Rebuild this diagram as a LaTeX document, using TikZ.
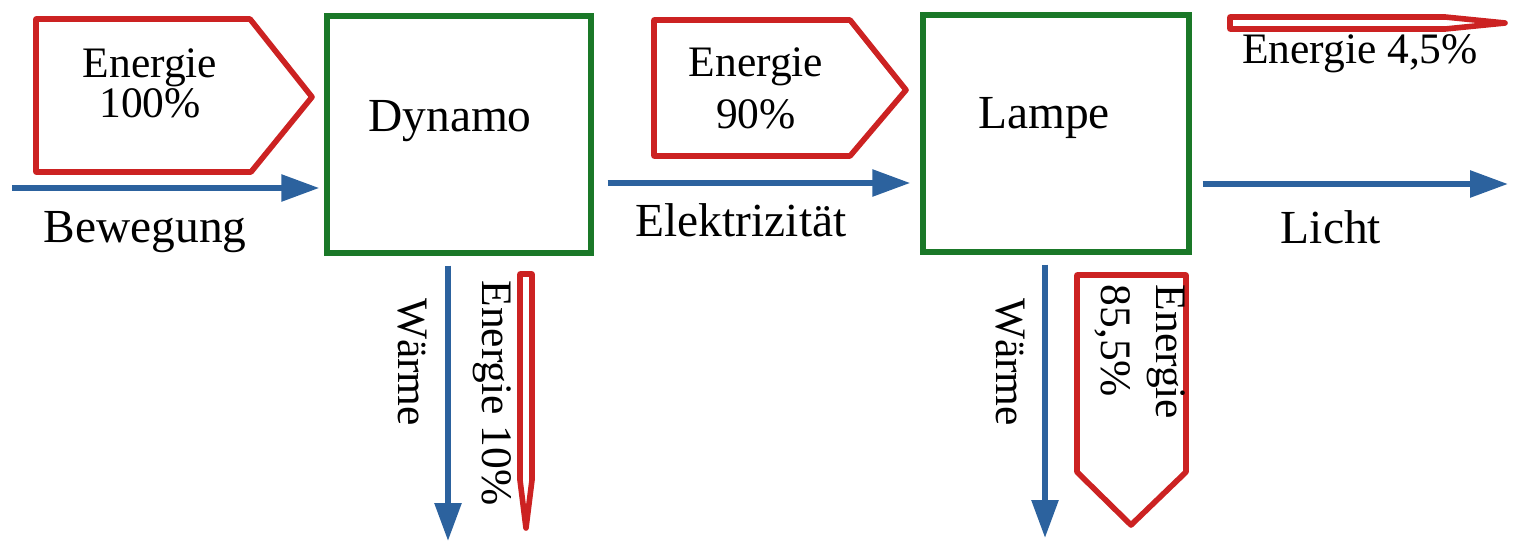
\documentclass[tikz,border=0pt]{standalone}
\usepackage{fontspec}
\setmainfont{Liberation Serif}
\usetikzlibrary{arrows.meta}
\definecolor{flowred}{RGB}{204,34,34}
\definecolor{boxgreen}{RGB}{26,120,40}
\definecolor{flowblue}{RGB}{44,98,158}
\tikzstyle{converter}=[draw=boxgreen, line width=3.1pt, minimum width=5.28cm, minimum height=4.74cm]
\tikzstyle{energy arrow}=[draw=flowred, line width=3.2pt, line join=round]
\tikzstyle{flow}=[draw=flowblue, line width=3.3pt, -{Triangle[length=0.76cm, width=0.52cm]}]
\tikzstyle{form}=[font=\fontsize{27}{32}\selectfont, inner sep=0]
\tikzstyle{amount}=[font=\fontsize{24.75}{29}\selectfont, inner sep=0, align=center]

\begin{document}
\begin{tikzpicture}[x=0.02cm, y=-0.02cm]
  \useasboundingbox (0,0) rectangle (1517,554);

  \node[converter, label={[form, xshift=-0.18cm, yshift=0.27cm]center:Dynamo}] (dynamo) at (459,134.5) {};
  \node[converter, minimum width=5.32cm, label={[form, xshift=-0.24cm, yshift=0.3cm]center:Lampe}] (lampe) at (1056,133.5) {};

  \coordinate (bew start) at (12,188);
  \coordinate (elek) at (600,183);
  \coordinate (licht end) at (1508,184);
  \coordinate (heat dyn end) at (448,541);
  \coordinate (heat lamp end) at (1045,538);

  % energy flows
  \draw[energy arrow] (36,19) -- (250,19) -- (312,97) -- (251,172) -- (36,172) -- cycle;
  \draw[energy arrow] (654,20) -- (850,20) -- (906,90) -- (850,156) -- (654,156) -- cycle;
  \draw[energy arrow] (1230,17) -- (1445,17) -- (1505,23) -- (1445,29) -- (1230,29) -- cycle;
  \draw[energy arrow] (520,274) -- (532,274) -- (532,480) -- (526,528) -- (520,480) -- cycle;
  \draw[energy arrow] (1077,275) -- (1186,275) -- (1186,472) -- (1131,525) -- (1077,472) -- cycle;

  \node[amount, font=\fontsize{24.75}{22.7}\selectfont] (e in) at (150,83) {Energie\\100\%};
  \node[amount, font=\fontsize{24.75}{29.5}\selectfont] (e el) at (756,88) {Energie\\90\%};
  \node[amount] (e light) at (1360,54) {Energie 4,5\%};
  \node[amount, rotate=-90] (e heat dyn) at (492,393) {Energie 10\%};
  \node[amount, rotate=-90, align=left, font=\fontsize{24.75}{31}\selectfont] (e heat lamp) at (1140,352) {Energie\\85,5\%};

  % forms
  \draw[flow, shorten >=0.1cm] (bew start) -- (bew start -| dynamo.west);
  \draw[flow, shorten <=0.28cm, shorten >=0.2cm] (elek -| dynamo.east) -- (elek -| lampe.west);
  \draw[flow, shorten <=0.22cm] (licht end -| lampe.east) -- (licht end);
  \draw[flow, shorten <=0.2cm] (heat dyn end |- dynamo.south) -- (heat dyn end);
  \draw[flow, shorten <=0.2cm] (heat lamp end |- lampe.south) -- (heat lamp end);

  \node[form] (bewegung) at (145,232) {Bewegung};
  \node[form] (elektrizitaet) at (741,220) {Elektrizität};
  \node[form] (licht) at (1331,227) {Licht};
  \node[amount, rotate=-90] (waerme dyn) at (412,362) {Wärme};
  \node[amount, rotate=-90] (waerme lamp) at (1010,362) {Wärme};
\end{tikzpicture}
\end{document}
